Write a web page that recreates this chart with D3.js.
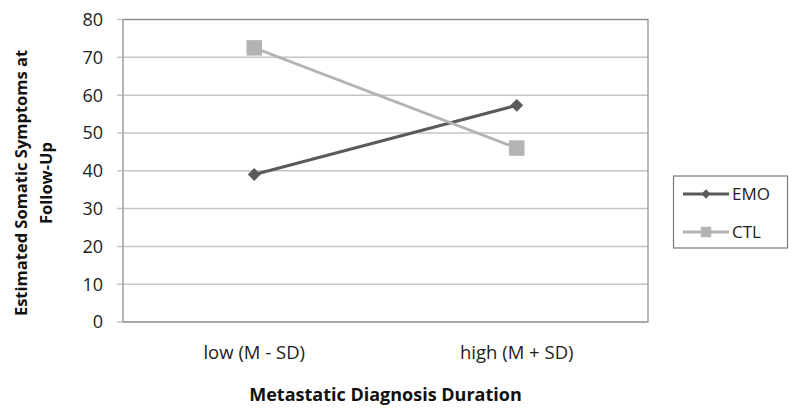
<!DOCTYPE html>
<html>
<head>
<meta charset="utf-8">
<script src="https://cdn.jsdelivr.net/npm/d3@7"></script>
<style>
  body { margin: 0; background: #fff; }
  svg { font-family: "Open Sans", sans-serif; }
</style>
</head>
<body>
<div id="chart"></div>
<script>
// data
const categories = ["low (M - SD)", "high (M + SD)"];
const emoValues = [39, 57.3];
const ctlValues = [72.5, 46];
const seriesNames = ["EMO", "CTL"];
const yTicks = [0, 10, 20, 30, 40, 50, 60, 70, 80];

const width = 800, height = 414;
const margin = { top: 19.5, right: 152, bottom: 92, left: 123 };

const svg = d3.select("#chart").append("svg")
    .attr("width", width)
    .attr("height", height);

const x = d3.scaleBand()
    .domain(categories)
    .range([margin.left, width - margin.right]);

const y = d3.scaleLinear()
    .domain([0, 80])
    .range([height - margin.bottom, margin.top]);

// gridlines
svg.append("g")
    .selectAll("line")
    .data(yTicks)
    .enter().append("line")
    .attr("x1", margin.left - 6)
    .attr("x2", width - margin.right)
    .attr("y1", d => y(d))
    .attr("y2", d => y(d))
    .attr("stroke", "#c4c4c4")
    .attr("stroke-width", 1.5);

// plot border (right + top) and left axis line
svg.append("rect")
    .attr("x", margin.left)
    .attr("y", margin.top)
    .attr("width", width - margin.right - margin.left)
    .attr("height", y(0) - margin.top)
    .attr("fill", "none")
    .attr("stroke", "#8c8c8c")
    .attr("stroke-width", 1.2);

svg.append("line")
    .attr("x1", margin.left).attr("x2", margin.left)
    .attr("y1", margin.top).attr("y2", y(0))
    .attr("stroke", "#b5b5b5")
    .attr("stroke-width", 1.5);

// y tick labels
svg.append("g")
    .selectAll("text")
    .data(yTicks)
    .enter().append("text")
    .attr("x", 103)
    .attr("y", d => y(d))
    .attr("dy", "0.36em")
    .attr("text-anchor", "end")
    .attr("font-size", 18)
    .attr("fill", "#222")
    .text(d => d);

// x category labels
svg.append("g")
    .selectAll("text")
    .data(categories)
    .enter().append("text")
    .attr("x", d => x(d) + x.bandwidth() / 2)
    .attr("y", 359)
    .attr("text-anchor", "middle")
    .attr("font-size", 18.5)
    .attr("fill", "#222")
    .text(d => d);

// axis titles
svg.append("text")
    .attr("x", (margin.left + width - margin.right) / 2)
    .attr("y", 401)
    .attr("text-anchor", "middle")
    .attr("font-size", 18)
    .attr("font-weight", "bold")
    .attr("fill", "#111")
    .text("Metastatic Diagnosis Duration");

const yTitle = svg.append("text")
    .attr("transform", "translate(0," + 183 + ") rotate(-90)")
    .attr("text-anchor", "middle")
    .attr("font-size", 16.5)
    .attr("font-weight", "bold")
    .attr("fill", "#111");
yTitle.append("tspan").attr("x", 0).attr("y", 27).text("Estimated Somatic Symptoms at");
yTitle.append("tspan").attr("x", 0).attr("y", 52).text("Follow-Up");

// series
const series = [
    { name: seriesNames[0], values: emoValues, color: "#5a5a5a", marker: "diamond" },
    { name: seriesNames[1], values: ctlValues, color: "#b3b3b3", marker: "square" }
];

const line = d3.line()
    .x((d, i) => x(categories[i]) + x.bandwidth() / 2)
    .y(d => y(d));

series.forEach(s => {
    svg.append("path")
        .datum(s.values)
        .attr("d", line)
        .attr("fill", "none")
        .attr("stroke", s.color)
        .attr("stroke-width", 3);
});

function drawMarker(g, type, cx, cy, color, size) {
    g.append("path")
        .attr("d", d3.symbol().type(type === "diamond" ? d3.symbolDiamond2 : d3.symbolSquare).size(size)())
        .attr("transform", "translate(" + cx + "," + cy + ")")
        .attr("fill", color);
}

series.forEach(s => {
    const g = svg.append("g");
    s.values.forEach((v, i) => {
        drawMarker(g, s.marker, x(categories[i]) + x.bandwidth() / 2, y(v), s.color,
            s.marker === "diamond" ? 105 : 240);
    });
});

// legend
const legend = svg.append("g");
legend.append("rect")
    .attr("x", 673.5)
    .attr("y", 176)
    .attr("width", 114)
    .attr("height", 72)
    .attr("fill", "#fff")
    .attr("stroke", "#7a7a7a")
    .attr("stroke-width", 1.2);

series.forEach((s, i) => {
    const ly = 194 + i * 38;
    legend.append("line")
        .attr("x1", 683).attr("x2", 729)
        .attr("y1", ly).attr("y2", ly)
        .attr("stroke", s.color)
        .attr("stroke-width", 3);
    drawMarker(legend, s.marker, 706, ly, s.color, s.marker === "diamond" ? 55 : 110);
    legend.append("text")
        .attr("x", 732)
        .attr("y", ly)
        .attr("dy", "0.36em")
        .attr("font-size", 17)
        .attr("fill", "#222")
        .text(s.name);
});
</script>
</body>
</html>
